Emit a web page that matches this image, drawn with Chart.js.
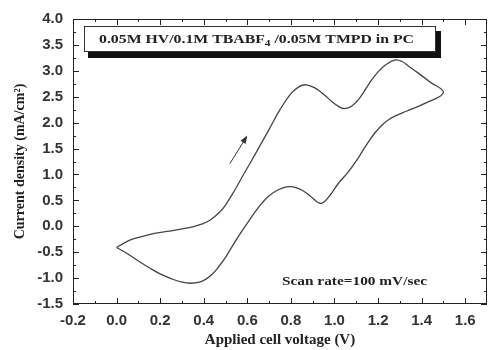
<!DOCTYPE html>
<html>
<head>
<meta charset="utf-8">
<script src="https://cdn.jsdelivr.net/npm/chart.js@4/dist/chart.umd.min.js"></script>
<style>
  html, body { margin: 0; padding: 0; background: #fff; }
  #wrap { width: 488px; height: 350px; }
</style>
</head>
<body>
<div id="wrap"><canvas id="cv"></canvas></div>
<script>
// cyclic voltammogram, traced in scan order starting at the 0 V vertex
const voltage = [
  0.00, 0.04, 0.08, 0.15, 0.23, 0.30, 0.35, 0.39, 0.43, 0.47, 0.50, 0.54, 0.58, 0.62, 0.66, 0.70,
  0.75, 0.80, 0.84, 0.87, 0.91, 0.95, 0.99, 1.02, 1.045, 1.08, 1.12, 1.16, 1.20, 1.24, 1.28,
  1.31, 1.34, 1.38, 1.44, 1.50,
  1.42, 1.33, 1.29, 1.25, 1.22, 1.185, 1.145, 1.10, 1.06, 1.02, 0.99, 0.96, 0.94, 0.92, 0.89,
  0.85, 0.81, 0.78, 0.74, 0.70, 0.67, 0.64, 0.60, 0.56, 0.52, 0.50, 0.465, 0.44, 0.41, 0.38,
  0.34, 0.30, 0.25, 0.20, 0.15, 0.10, 0.05, 0.00
];
const current = [
  -0.41, -0.31, -0.24, -0.16, -0.10, -0.05, -0.01, 0.04, 0.12, 0.26, 0.41, 0.68, 0.98, 1.27, 1.57, 1.87,
  2.25, 2.56, 2.70, 2.73, 2.67, 2.55, 2.40, 2.31, 2.27, 2.32, 2.50, 2.76, 2.98, 3.13, 3.21,
  3.18, 3.09, 2.97, 2.78, 2.58,
  2.38, 2.22, 2.15, 2.06, 1.96, 1.80, 1.56, 1.26, 1.03, 0.84, 0.66, 0.50, 0.44, 0.47, 0.58,
  0.70, 0.76, 0.76, 0.70, 0.59, 0.46, 0.30, 0.06, -0.19, -0.46, -0.60, -0.80, -0.92, -1.02, -1.08,
  -1.10, -1.08, -1.01, -0.92, -0.80, -0.67, -0.53, -0.41
];
const xTickRange = [-0.2, 1.7];
const yTickRange = [-1.5, 4.0];
const arrowFrom = [0.52, 1.21];
const arrowTo = [0.60, 1.75];

const points = voltage.map((v, i) => ({ x: v, y: current[i] }));
const serif = "'Liberation Serif', 'Times New Roman', serif";
const ink = '#222';

function stretchedText(ctx, parts, x, y, width) {
  // parts: [text, fontSize, dy]
  let natural = 0;
  parts.forEach(p => { ctx.font = 'bold ' + p[1] + 'px ' + serif; natural += ctx.measureText(p[0]).width; });
  const sx = width / natural;
  ctx.save();
  ctx.translate(x, y);
  ctx.scale(sx, 1);
  ctx.textBaseline = 'alphabetic';
  ctx.textAlign = 'left';
  let cx = 0;
  parts.forEach(p => {
    ctx.font = 'bold ' + p[1] + 'px ' + serif;
    ctx.fillText(p[0], cx, p[2]);
    cx += ctx.measureText(p[0]).width;
  });
  ctx.restore();
}

const decorations = {
  id: 'decorations',
  afterDraw(chart) {
    const { ctx, chartArea: a, scales: { x, y } } = chart;
    ctx.save();
    ctx.strokeStyle = ink;
    ctx.lineWidth = 1;
    ctx.strokeRect(a.left + 0.5, a.top + 0.5, a.right - a.left - 1, a.bottom - a.top - 1);

    // inward ticks on all four sides, minor ticks halfway between majors
    ctx.beginPath();
    const xs = x.ticks.map(t => t.value);
    xs.forEach((v, i) => {
      const px = Math.round(x.getPixelForValue(v)) + 0.5;
      ctx.moveTo(px, a.bottom); ctx.lineTo(px, a.bottom - 6);
      ctx.moveTo(px, a.top); ctx.lineTo(px, a.top + 6);
      if (i < xs.length - 1) {
        const pm = Math.round(x.getPixelForValue((v + xs[i + 1]) / 2)) + 0.5;
        ctx.moveTo(pm, a.bottom); ctx.lineTo(pm, a.bottom - 3);
        ctx.moveTo(pm, a.top); ctx.lineTo(pm, a.top + 3);
      }
    });
    const ys = y.ticks.map(t => t.value);
    ys.forEach((v, i) => {
      const py = Math.round(y.getPixelForValue(v)) + 0.5;
      ctx.moveTo(a.left, py); ctx.lineTo(a.left + 6, py);
      ctx.moveTo(a.right, py); ctx.lineTo(a.right - 6, py);
      if (i < ys.length - 1) {
        const pm = Math.round(y.getPixelForValue((v + ys[i + 1]) / 2)) + 0.5;
        ctx.moveTo(a.left, pm); ctx.lineTo(a.left + 3, pm);
        ctx.moveTo(a.right, pm); ctx.lineTo(a.right - 3, pm);
      }
    });
    ctx.stroke();

    // scan direction arrow
    const x0 = x.getPixelForValue(arrowFrom[0]), y0 = y.getPixelForValue(arrowFrom[1]);
    const x1 = x.getPixelForValue(arrowTo[0]), y1 = y.getPixelForValue(arrowTo[1]);
    const ang = Math.atan2(y1 - y0, x1 - x0);
    ctx.strokeStyle = '#333';
    ctx.fillStyle = '#333';
    ctx.beginPath();
    ctx.moveTo(x0, y0);
    ctx.lineTo(x1 - 5 * Math.cos(ang), y1 - 5 * Math.sin(ang));
    ctx.stroke();
    ctx.beginPath();
    ctx.moveTo(x1, y1);
    ctx.lineTo(x1 - 8 * Math.cos(ang) + 3 * Math.sin(ang), y1 - 8 * Math.sin(ang) - 3 * Math.cos(ang));
    ctx.lineTo(x1 - 8 * Math.cos(ang) - 3 * Math.sin(ang), y1 - 8 * Math.sin(ang) + 3 * Math.cos(ang));
    ctx.closePath();
    ctx.fill();

    // composition label with drop shadow
    const bx = a.left + 11, by = a.top + 7, bw = 352, bh = 26;
    ctx.fillStyle = '#111';
    ctx.fillRect(bx + 4, by + 5, bw + 1, bh + 1);
    ctx.fillStyle = '#fff';
    ctx.fillRect(bx, by, bw, bh);
    ctx.strokeStyle = '#333';
    ctx.strokeRect(bx + 0.5, by + 0.5, bw - 1, bh - 1);
    ctx.fillStyle = ink;
    stretchedText(ctx, [
      ['0.05M HV/0.1M TBABF', 12.5, 0],
      ['4', 9, 3],
      [' /0.05M TMPD in PC', 12.5, 0]
    ], bx + 15, by + 17, 315);

    stretchedText(ctx, [['Scan rate=100 mV/sec', 12.5, 0]], a.left + 209, a.top + 266, 145);
    ctx.restore();
  }
};

new Chart(document.getElementById('cv'), {
  type: 'scatter',
  data: {
    datasets: [{
      data: points,
      showLine: true,
      borderColor: '#444',
      borderWidth: 1.3,
      tension: 0.4,
      pointRadius: 0,
      fill: false
    }]
  },
  options: {
    responsive: true,
    maintainAspectRatio: false,
    animation: false,
    layout: { padding: { top: 15, right: 1, left: 0, bottom: 0 } },
    plugins: { legend: { display: false }, tooltip: { enabled: false } },
    scales: {
      x: {
        type: 'linear',
        min: xTickRange[0],
        max: xTickRange[1],
        grid: { display: false, drawTicks: false },
        border: { display: false },
        ticks: {
          stepSize: 0.2,
          includeBounds: false,
          padding: 8,
          color: '#333',
          font: { family: "'Liberation Sans', Arial, sans-serif", size: 15, weight: 'bold' },
          callback: v => v.toFixed(1)
        },
        title: {
          display: true,
          text: 'Applied cell voltage (V)',
          color: ink,
          font: { family: serif, size: 15, weight: 'bold' },
          padding: { top: 0, bottom: 1 }
        },
        afterFit: s => { s.height = 46; }
      },
      y: {
        min: yTickRange[0],
        max: yTickRange[1],
        grid: { display: false, drawTicks: false },
        border: { display: false },
        ticks: {
          stepSize: 0.5,
          padding: 10,
          color: '#333',
          font: { family: "'Liberation Sans', Arial, sans-serif", size: 15, weight: 'bold' },
          callback: v => v.toFixed(1)
        },
        title: {
          display: true,
          text: 'Current density (mA/cm²)',
          color: ink,
          font: { family: serif, size: 14, weight: 'bold' },
          padding: { top: 12, bottom: 0 }
        },
        afterFit: s => { s.width = 73; }
      }
    }
  },
  plugins: [decorations]
});
</script>
</body>
</html>
